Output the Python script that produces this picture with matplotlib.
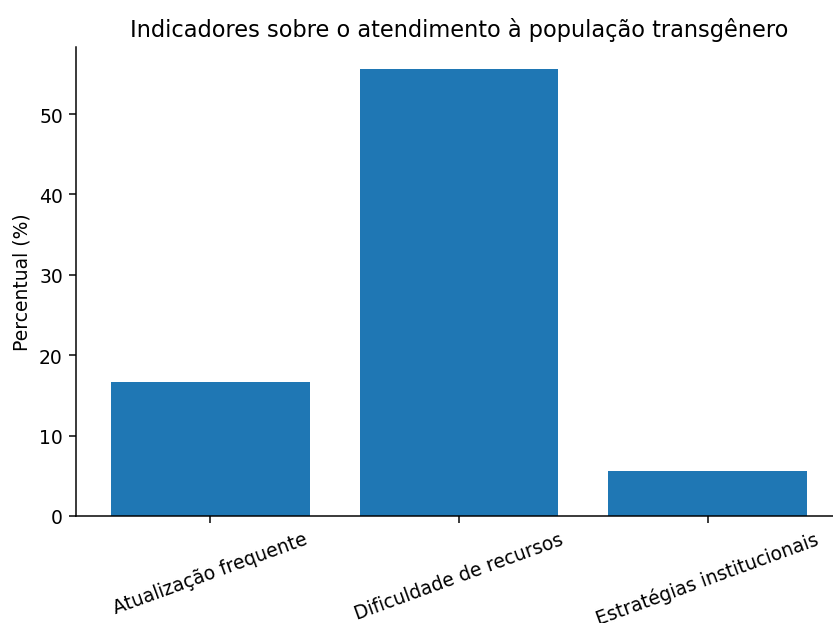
import matplotlib
matplotlib.use("Agg")
import matplotlib.pyplot as plt

categories = ["Atualização frequente", "Dificuldade de recursos", "Estratégias institucionais"]
values = [16.67, 55.56, 5.56]
title = "Indicadores sobre o atendimento à população transgênero"
ylabel = "Percentual (%)"

DPI = 135
fig = plt.figure(figsize=(833/DPI, 624/DPI), dpi=DPI)
ax = fig.add_axes([76/833, 107/624, 766/833, 469/624])
ax.bar(categories, values, color="#1f77b4")
ax.set_title(title, fontsize=12)
ax.set_ylabel(ylabel)
ax.spines["top"].set_visible(False)
ax.spines["right"].set_visible(False)
plt.setp(ax.get_xticklabels(), rotation=20)
fig.savefig("out.png", dpi=DPI)
